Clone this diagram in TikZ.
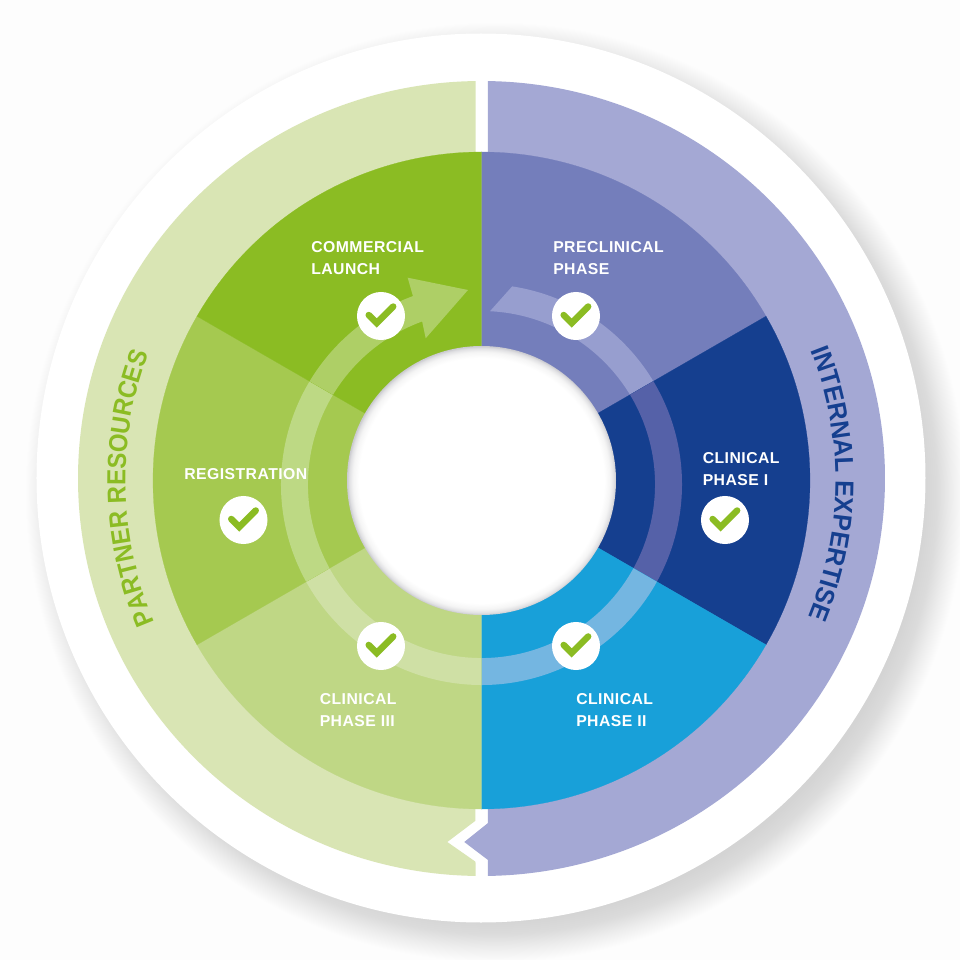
\documentclass[tikz,border=0pt]{standalone}
\usepackage{fontspec}
\usetikzlibrary{decorations.text}
\newfontfamily\labelfont[LetterSpace=3]{Liberation Sans Bold}
\newfontfamily\partnerfont[FakeStretch=0.92]{Liberation Sans Bold}
\newfontfamily\internalfont[FakeStretch=0.955]{Liberation Sans Bold}

\definecolor{pagegray}{HTML}{FDFDFD}
\definecolor{commercial}{HTML}{8BBC23}
\definecolor{registration}{HTML}{A5C950}
\definecolor{phasethree}{HTML}{BFD785}
\definecolor{phasetwo}{HTML}{18A0D9}
\definecolor{phaseone}{HTML}{153F8F}
\definecolor{preclinical}{HTML}{747EBB}
\definecolor{partnerring}{HTML}{D9E5B4}
\definecolor{internalring}{HTML}{A4A8D4}
\definecolor{flowcommercial}{HTML}{AECF66}
\definecolor{flowregistration}{HTML}{BDD984}
\definecolor{flowthree}{HTML}{CFE0A5}
\definecolor{flowtwo}{HTML}{74B6E1}
\definecolor{flowone}{HTML}{5561A8}
\definecolor{flowpre}{HTML}{979ECF}

\pgfdeclareradialshading{softshadow}{\pgfpoint{0bp}{0bp}}{rgb(0bp)=(0.83,0.83,0.83); rgb(22.7bp)=(0.83,0.83,0.83); rgb(23.5bp)=(0.86,0.86,0.86); rgb(24.25bp)=(0.93,0.93,0.93); rgb(25bp)=(0.992,0.992,0.992); rgb(50bp)=(0.992,0.992,0.992)}
\pgfdeclareradialshading{holeshadow}{\pgfpoint{0bp}{0bp}}{rgb(0bp)=(1,1,1); rgb(22.8bp)=(1,1,1); rgb(23.9bp)=(0.96,0.96,0.96); rgb(24.6bp)=(0.88,0.88,0.89); rgb(25bp)=(0.79,0.79,0.81); rgb(50bp)=(0.79,0.79,0.81)}

\tikzset{
	phaselabel/.style={anchor=west,align=left,inner sep=0pt,text=white,font=\labelfont\fontsize{11.2}{15.6}\selectfont},
	badge/.style={circle,fill=white,inner sep=0pt,minimum size=1.2cm},
	tick/.style={draw=commercial,line width=4.6pt,line cap=round},
	ringtext/.style 2 args={decorate,decoration={text along path,text align=center,text={|#1\fontsize{18.6}{20}\selectfont|#2}}}
}

\newcommand{\flowpath}{(81.2:200.5) arc[start angle=81.2,end angle=-250,radius=200.5] -- (-73.8,206.8) -- (-13.5,194.5) -- (-55.8,146.2) -- (-250:173.5) arc[start angle=-250,end angle=87.2,radius=173.5] -- cycle}

\begin{document}
\begin{tikzpicture}[scale=0.025]

	\fill[pagegray] (-481.5,-479.5) rectangle (478.5,480.5);
	\useasboundingbox (-481.5,-479.5) rectangle (478.5,480.5);

	\shade[shading=softshadow] (13.5,-11.5) circle[radius=470];
	\fill[white] (-0.5,2.5) circle[radius=444.5];

	% outer ring, two halves with the chevron between them
	\fill[partnerring] (90.85:403.5 and 397.5) ++(0,2) arc[start angle=90.85,end angle=269.15,x radius=403.5,y radius=397.5]
		-- (-6,-381.2) -- (-34.2,-361.5) -- (-6,-340.2) -- cycle;
	\fill[internalring] (89.08:403.5 and 397.5) ++(0,2) arc[start angle=89.08,end angle=-89.08,x radius=403.5,y radius=397.5]
		-- (6.5,-379.5) -- (-17.2,-361.5) -- (6.5,-342.5) -- cycle;

	% the six phases
	\foreach \from/\to/\phasecol/\flowcol in {
		90/30/preclinical/flowpre,
		30/-30/phaseone/flowone,
		-30/-90/phasetwo/flowtwo,
		-90/-150/phasethree/flowthree,
		-150/-210/registration/flowregistration,
		-210/-270/commercial/flowcommercial}{
		\filldraw[fill=\phasecol,draw=\phasecol,line width=0.15pt] (0,0) -- (\from:328.5) arc[start angle=\from,end angle=\to,radius=328.5] -- cycle;
		\begin{scope}
			\clip (0,0) -- (\from:328.5) arc[start angle=\from,end angle=\to,radius=328.5] -- cycle;
			\fill[\flowcol,shift={(0,-4)}] \flowpath;
		\end{scope}
	}

	\shade[shading=holeshadow] (0,0) circle[radius=134.5];

	\path[ringtext={\partnerfont\color{commercial}}{PARTNER RESOURCES}] (216:356) arc[start angle=216,end angle=146.6,radius=356];
	\path[ringtext={\internalfont\color{phaseone}}{INTERNAL EXPERTISE}] (34.5:354) arc[start angle=34.5,end angle=-35.5,radius=354];

	\node[phaselabel] (commerciallabel) at (-170.5,222) {COMMERCIAL\\LAUNCH};
	\node[phaselabel] (preclinicallabel) at (71.5,222) {PRECLINICAL\\PHASE};
	\node[phaselabel] (phaseonelabel) at (221,11) {CLINICAL\\PHASE I};
	\node[phaselabel] (registrationlabel) at (-297.5,6) {REGISTRATION};
	\node[phaselabel] (phasetwolabel) at (94.5,-229.5) {CLINICAL\\PHASE II};
	\node[phaselabel] (phasethreelabel) at (-162,-229.5) {CLINICAL\\PHASE III};

	\foreach \name/\x/\y in {
		commercialbadge/-100.5/164.5,
		preclinicalbadge/94.5/164.5,
		phaseonebadge/243.5/-39.5,
		registrationbadge/-238/-39.5,
		phasetwobadge/94.5/-165.5,
		phasethreebadge/-100.5/-165.5}{
		\node[badge] (\name) at (\x,\y) {};
		\draw[tick] ([shift={(-12.3,1)}]\name.center) -- ++(8,-8) -- ++(16.5,16.5);
	}

\end{tikzpicture}
\end{document}
